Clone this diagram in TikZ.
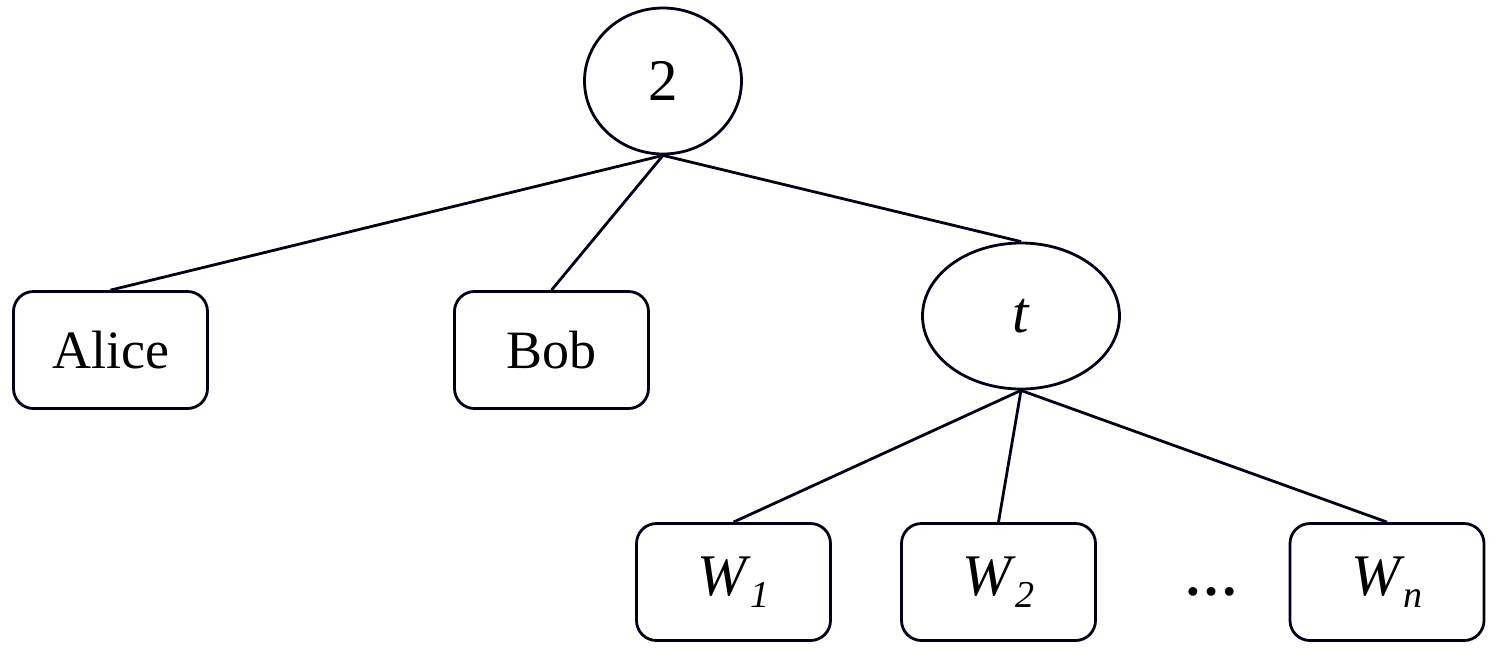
\documentclass[tikz,border=0pt]{standalone}
\usepackage{fontspec}
\setmainfont{Liberation Serif}
\usetikzlibrary{shapes.geometric}
\newcommand{\Wsub}[1]{\textit{W}\kern-0.5pt\raisebox{-6pt}{\fontsize{19}{19}\selectfont\textit{#1}}}
\begin{document}
\begin{tikzpicture}[x=0.5pt,y=-0.5pt,
  ln/.style={draw=black!85!blue!60!black, line width=1.4pt},
  leaf/.style={ln, rounded corners=10pt, minimum width=97pt, minimum height=58.5pt, inner sep=0pt, fill=white},
  oval/.style={ln, ellipse, inner sep=0pt, fill=white},
  big/.style={font=\fontsize{29.5}{29.5}\selectfont},
  mid/.style={font=\fontsize{27}{27}\selectfont}]
\useasboundingbox (0,0) rectangle (1496,650);
\node[oval, minimum width=78.5pt, minimum height=73pt, big] (r) at (663,81) {2};
\node[oval, minimum width=98.5pt, minimum height=73pt, big] (t) at (1021,316) {\textit{t}};
\node[leaf, mid] (alice) at (110.5,350) {Alice};
\node[leaf, mid] (bob) at (551.5,350) {Bob};
\node[leaf, big] (w1) at (733.5,582) {\Wsub{1}};
\node[leaf, big] (w2) at (998.5,582) {\Wsub{2}};
\node[leaf, big] (wn) at (1387,582) {\Wsub{n}};
\node[mid] (dots) at (1211,592) {\textbf{…}};
\draw[ln] (r.south) -- (alice.north);
\draw[ln] (r.south) -- (bob.north);
\draw[ln] (r.south) -- (t.north);
\draw[ln] (t.south) -- (w1.north);
\draw[ln] (t.south) -- (w2.north);
\draw[ln] (t.south) -- (wn.north);
\end{tikzpicture}
\end{document}
